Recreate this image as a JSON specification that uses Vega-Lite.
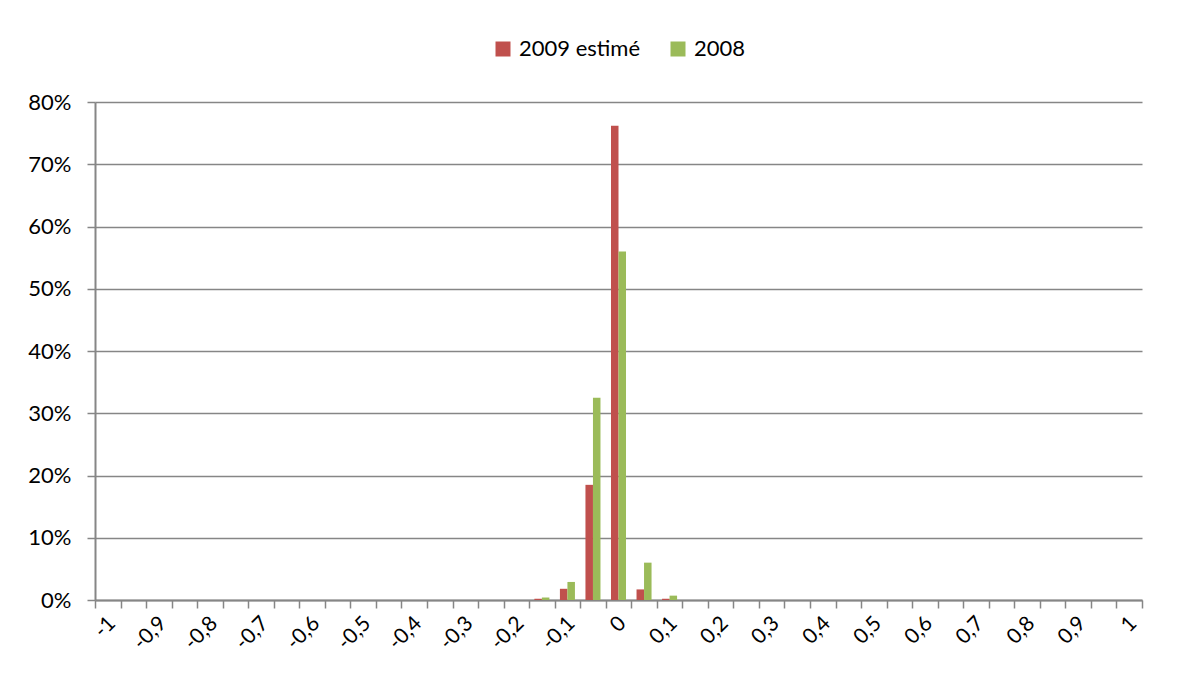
{
  "$schema": "https://vega.github.io/schema/vega-lite/v6.json",
  "width": 1047,
  "height": 498,
  "autosize": {"type": "none"},
  "padding": {"left": 95, "top": 102, "right": 35, "bottom": 80},
  "background": "white",
  "data": {
    "values": [
      {"x": "-1", "a": 0, "b": 0},
      {"x": "-0,95", "a": 0, "b": 0},
      {"x": "-0,9", "a": 0, "b": 0},
      {"x": "-0,85", "a": 0, "b": 0},
      {"x": "-0,8", "a": 0, "b": 0},
      {"x": "-0,75", "a": 0, "b": 0},
      {"x": "-0,7", "a": 0, "b": 0},
      {"x": "-0,65", "a": 0, "b": 0},
      {"x": "-0,6", "a": 0, "b": 0},
      {"x": "-0,55", "a": 0, "b": 0},
      {"x": "-0,5", "a": 0, "b": 0},
      {"x": "-0,45", "a": 0, "b": 0},
      {"x": "-0,4", "a": 0, "b": 0},
      {"x": "-0,35", "a": 0, "b": 0},
      {"x": "-0,3", "a": 0, "b": 0},
      {"x": "-0,25", "a": 0, "b": 0},
      {"x": "-0,2", "a": 0, "b": 0},
      {"x": "-0,15", "a": 0.002, "b": 0.004},
      {"x": "-0,1", "a": 0.018, "b": 0.029},
      {"x": "-0,05", "a": 0.185, "b": 0.325},
      {"x": "0", "a": 0.762, "b": 0.56},
      {"x": "0,05", "a": 0.017, "b": 0.06},
      {"x": "0,1", "a": 0.002, "b": 0.007},
      {"x": "0,15", "a": 0, "b": 0},
      {"x": "0,2", "a": 0, "b": 0},
      {"x": "0,25", "a": 0, "b": 0},
      {"x": "0,3", "a": 0, "b": 0},
      {"x": "0,35", "a": 0, "b": 0},
      {"x": "0,4", "a": 0, "b": 0},
      {"x": "0,45", "a": 0, "b": 0},
      {"x": "0,5", "a": 0, "b": 0},
      {"x": "0,55", "a": 0, "b": 0},
      {"x": "0,6", "a": 0, "b": 0},
      {"x": "0,65", "a": 0, "b": 0},
      {"x": "0,7", "a": 0, "b": 0},
      {"x": "0,75", "a": 0, "b": 0},
      {"x": "0,8", "a": 0, "b": 0},
      {"x": "0,85", "a": 0, "b": 0},
      {"x": "0,9", "a": 0, "b": 0},
      {"x": "0,95", "a": 0, "b": 0},
      {"x": "1", "a": 0, "b": 0}
    ]
  },
  "transform": [
    {"fold": ["a", "b"], "as": ["key", "part"]},
    {"lookup": "key", "from": {"data": {"values": [{"key": "a", "serie": "2009 estimé"}, {"key": "b", "serie": "2008"}]}, "key": "key", "fields": ["serie"]}}
  ],
  "mark": {"type": "bar"},
  "encoding": {
    "x": {
      "field": "x",
      "type": "nominal",
      "sort": null,
      "scale": {"paddingInner": 0, "paddingOuter": 0},
      "axis": {
        "title": null,
        "labelAngle": -45,
        "labelAlign": "right",
        "labelBaseline": "middle",
        "tickBand": "extent",
        "labelExpr": "test(/,\\d5$/, datum.label) ? '' : datum.label",
        "domainColor": "#868686",
        "domainWidth": 2,
        "tickColor": "#868686",
        "tickWidth": 1.5,
        "tickSize": 8,
        "labelPadding": 12,
        "labelOffset": 4,
        "labelFont": "Lato",
        "labelFontSize": 21,
        "labelColor": "#000000",
        "grid": false
      }
    },
    "xOffset": {
      "field": "serie",
      "type": "nominal",
      "sort": ["2009 estimé", "2008"],
      "scale": {"paddingOuter": 0.7, "paddingInner": 0}
    },
    "y": {
      "field": "part",
      "type": "quantitative",
      "scale": {"domain": [0, 0.8], "nice": false},
      "axis": {
        "title": null,
        "format": ".0%",
        "values": [0, 0.1, 0.2, 0.3, 0.4, 0.5, 0.6, 0.7, 0.8],
        "grid": true,
        "gridColor": "#868686",
        "gridWidth": 1.3,
        "domainColor": "#868686",
        "domainWidth": 2,
        "tickColor": "#868686",
        "tickWidth": 1.5,
        "tickSize": 8,
        "labelPadding": 16,
        "labelFont": "Lato",
        "labelFontSize": 22,
        "labelColor": "#000000"
      }
    },
    "color": {
      "field": "serie",
      "type": "nominal",
      "scale": {"domain": ["2009 estimé", "2008"], "range": ["#C0504D", "#9BBB59"]},
      "legend": {
        "title": null,
        "orient": "top",
        "direction": "horizontal",
        "symbolType": "square",
        "symbolSize": 225,
        "symbolStrokeWidth": 0,
        "labelFont": "Lato",
        "labelFontSize": 22,
        "labelColor": "#000000",
        "labelOffset": 5,
        "columnPadding": 26,
        "offset": 42
      }
    }
  },
  "config": {
    "view": {"stroke": null},
    "legend": {"layout": {"top": {"anchor": "middle"}}}
  }
}
